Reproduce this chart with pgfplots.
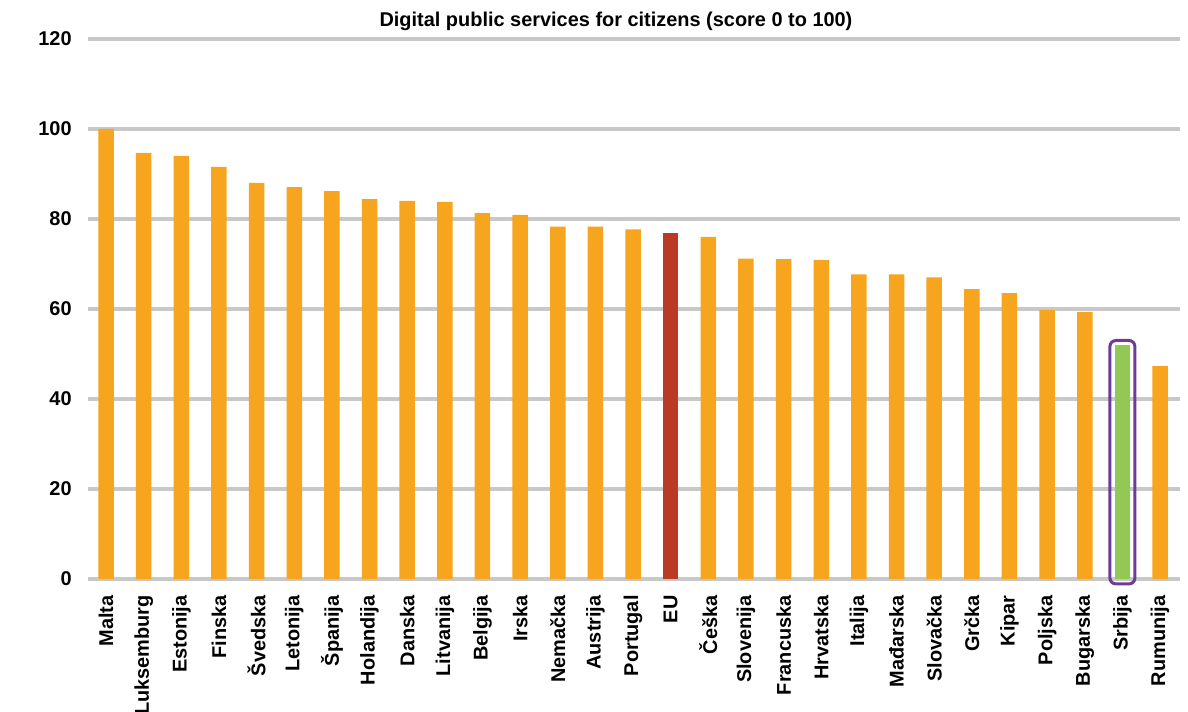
\documentclass[border=0pt]{standalone}
\usepackage{pgfplots}
\pgfplotsset{compat=1.18}
\usepackage{fontspec}
\setmainfont{Liberation Sans}
\definecolor{barorange}{HTML}{F7A51F}
\definecolor{eured}{HTML}{BA3A26}
\definecolor{srbgreen}{HTML}{92C955}
\definecolor{boxpurple}{HTML}{6E3B96}
\definecolor{gridgray}{HTML}{C8C8C8}
\begin{document}
\begin{tikzpicture}
\begin{axis}[
  at={(0,0)}, anchor=south west,
  scale only axis, width=546bp, height=270bp,
  xmin=-0.48, xmax=28.53, ymin=0, ymax=120,
  clip=false,
  axis line style={draw=none},
  major tick length=0pt,
  ytick={0,20,...,120},
  ymajorgrids,
  grid style={color=gridgray, line width=2.2bp},
  xtick={0,...,28},
  xticklabels={Malta,Luksemburg,Estonija,Finska,Švedska,Letonija,Španija,Holandija,Danska,Litvanija,Belgija,Irska,Nemačka,Austrija,Portugal,EU,Češka,Slovenija,Francuska,Hrvatska,Italija,Mađarska,Slovačka,Grčka,Kipar,Poljska,Bugarska,Srbija,Rumunija},
  xticklabel style={rotate=90, anchor=east, inner sep=0pt, xshift=-8bp, font=\bfseries\fontsize{10}{11}\selectfont},
  yticklabel style={anchor=east, inner sep=0pt, xshift=-8bp, font=\bfseries\fontsize{10}{11}\selectfont},
  /pgf/number format/assume math mode=true,
  ybar, bar width=7.75bp, bar shift=0pt,
]
\addplot[fill=barorange, draw=none] coordinates {
(0,100) (1,94.7) (2,94.0) (3,91.6) (4,88.0) (5,87.1) (6,86.2) (7,84.4) (8,84.0) (9,83.8)
(10,81.3) (11,80.9) (12,78.3) (13,78.3) (14,77.7) (16,76.0) (17,71.2) (18,71.1) (19,70.9)
(20,67.7) (21,67.7) (22,67.0) (23,64.4) (24,63.5) (25,59.8) (26,59.3) (28,47.3)};
\addplot[fill=eured, draw=none] coordinates {(15,76.9)};
\addplot[fill=srbgreen, draw=none] coordinates {(27,52.0)};
\draw[boxpurple, line width=1.5bp, rounded corners=3bp] (axis cs:26.668,-1.1) rectangle (axis cs:27.332,53.0);
\node[font=\bfseries\fontsize{10}{12}\selectfont] at ([yshift=9bp]rel axis cs:0.4835,1) {Digital public services for citizens (score 0 to 100)};
\end{axis}
\pgfresetboundingbox
\path[use as bounding box] (-44bp,-66.5bp) rectangle (550bp,289.5bp);
\end{tikzpicture}
\end{document}
